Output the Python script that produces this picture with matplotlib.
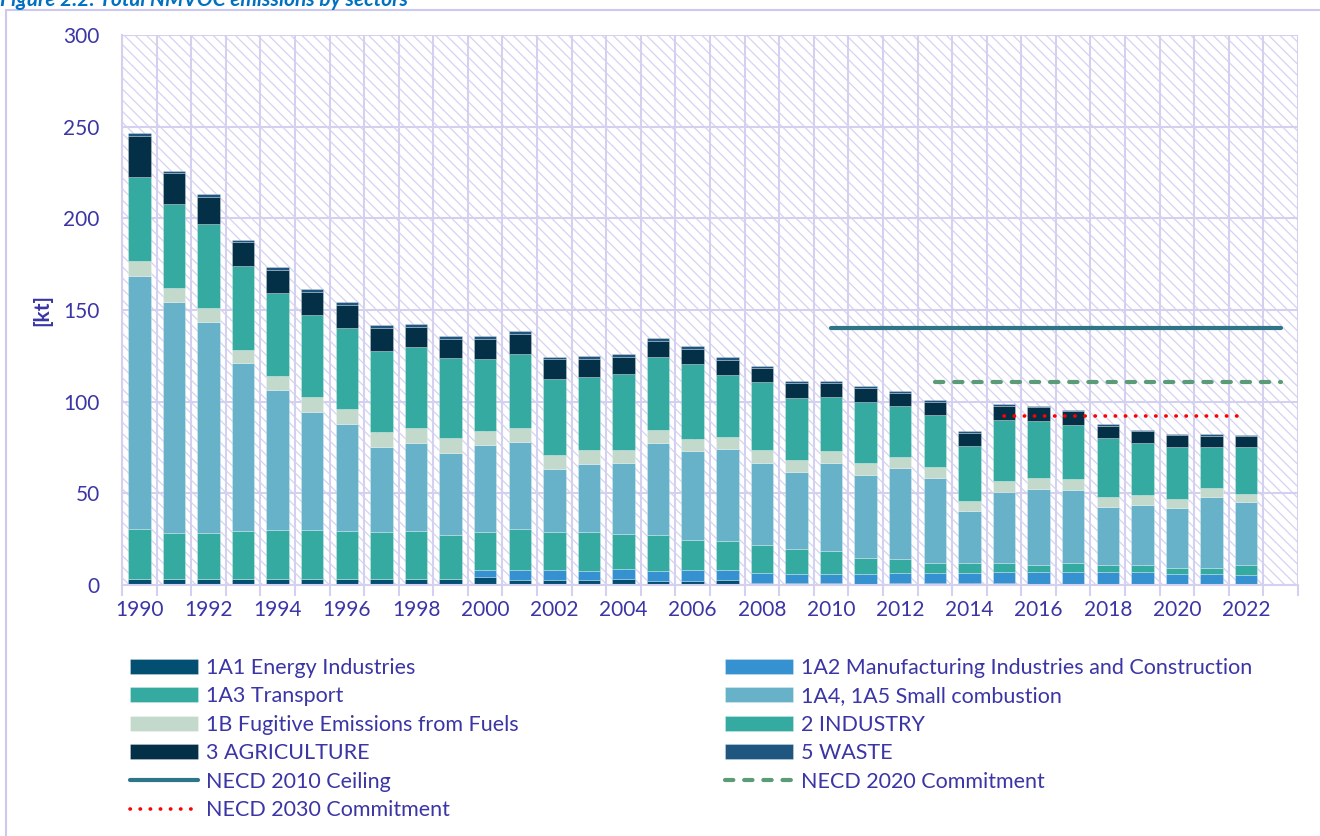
import matplotlib.pyplot as plt
from matplotlib.patches import Rectangle
import numpy as np

plt.rcParams['font.family'] = ['Lato', 'DejaVu Sans']
plt.rcParams['hatch.linewidth'] = 0.9

# data (kt NMVOC), 1990-2022; 2023 slot is left empty on the axis
years = list(range(1990, 2023))
axis_years = list(range(1990, 2024))

energy_1a1 = [3.1, 3.1, 3.1, 3.1, 3.1, 3.1, 3.1, 3.1, 3.1, 3.1,
              4.2, 3.0, 2.9, 2.9, 3.5, 2.0, 2.4, 2.5, 1.3, 1.3,
              1.3, 0.7, 0.9, 1.0, 0.9, 1.0, 0.5, 0.6, 0.5, 0.6,
              0.5, 0.5, 0.5]
manuf_1a2 = [0.0, 0.0, 0.0, 0.0, 0.0, 0.0, 0.0, 0.0, 0.0, 0.0,
             3.8, 5.0, 5.5, 4.7, 5.0, 5.5, 5.6, 5.5, 5.4, 4.5,
             4.9, 5.5, 5.5, 5.4, 5.8, 5.9, 6.4, 6.3, 6.8, 6.7,
             5.7, 5.7, 5.1]
transport_1a3 = [27.3, 25.1, 25.1, 26.5, 27.1, 27.1, 26.4, 26.0, 26.4, 24.4,
                 20.7, 22.7, 20.7, 21.5, 19.5, 20.0, 16.7, 16.0, 14.9, 14.0,
                 12.2, 8.7, 7.9, 5.8, 5.1, 5.3, 4.0, 5.1, 3.6, 3.6,
                 3.3, 3.3, 5.3]
small_1a4 = [138.3, 126.2, 115.4, 91.3, 76.2, 64.2, 58.3, 46.4, 48.1, 44.7,
             47.8, 47.5, 34.2, 37.1, 38.7, 50.0, 48.6, 50.2, 45.1, 41.8,
             48.1, 45.3, 49.7, 46.3, 28.6, 38.5, 41.5, 39.8, 31.6, 32.7,
             32.5, 38.5, 34.6]
fugitive_1b = [8.0, 7.6, 7.7, 7.5, 7.6, 8.0, 8.0, 8.0, 8.0, 8.0,
               7.5, 7.6, 7.4, 7.3, 7.1, 6.9, 6.5, 6.5, 6.9, 6.6,
               6.6, 6.3, 5.8, 5.8, 5.2, 5.9, 5.8, 5.8, 5.5, 5.5,
               4.9, 4.9, 4.3]
industry_2 = [46.0, 45.8, 45.6, 45.4, 45.1, 44.7, 44.6, 44.0, 44.2, 43.4,
              39.3, 40.2, 41.8, 40.0, 41.1, 39.8, 40.7, 34.0, 37.0, 34.0,
              29.3, 33.5, 27.7, 28.4, 30.2, 33.4, 31.4, 29.7, 32.2, 28.4,
              28.4, 22.4, 25.5]
agriculture_3 = [22.2, 16.7, 14.7, 13.1, 12.9, 12.7, 12.5, 12.5, 11.1, 10.8,
                 10.7, 10.7, 10.6, 10.0, 9.3, 9.1, 8.2, 8.2, 7.6, 7.8,
                 7.6, 7.3, 7.2, 7.3, 7.2, 7.7, 7.4, 7.4, 6.6, 6.4,
                 6.3, 6.1, 5.9]
waste_5 = [1.5, 1.3, 1.7, 1.3, 1.3, 1.5, 1.5, 1.8, 1.6, 1.4,
           2.0, 1.7, 1.4, 1.4, 1.6, 1.6, 1.5, 1.5, 1.3, 1.3,
           1.1, 1.1, 1.3, 1.0, 0.8, 0.8, 0.8, 0.8, 0.8, 0.8,
           0.8, 0.8, 0.8]

necd2010_years = [2010, 2011, 2012, 2013, 2014, 2015, 2016, 2017, 2018, 2019, 2020, 2021, 2022, 2023]
necd2010_vals = [140, 140, 140, 140, 140, 140, 140, 140, 140, 140, 140, 140, 140, 140]
necd2020_years = [2013, 2014, 2015, 2016, 2017, 2018, 2019, 2020, 2021, 2022, 2023]
necd2020_vals = [111, 111, 111, 111, 111, 111, 111, 111, 111, 111, 111]
necd2030_years = [2015, 2016, 2017, 2018, 2019, 2020, 2021, 2022]
necd2030_vals = [92, 92, 92, 92, 92, 92, 92, 92]

series = [
    ('1A1 Energy Industries', energy_1a1, '#024f72'),
    ('1A2 Manufacturing Industries and Construction', manuf_1a2, '#3591cf'),
    ('1A3 Transport', transport_1a3, '#35aaa1'),
    ('1A4, 1A5 Small combustion', small_1a4, '#67b1c9'),
    ('1B Fugitive Emissions from Fuels', fugitive_1b, '#c3d9cc'),
    ('2 INDUSTRY', industry_2, '#35aaa1'),
    ('3 AGRICULTURE', agriculture_3, '#032f47'),
    ('5 WASTE', waste_5, '#1f5680'),
]

txt_col = '#3b35a5'
grid_col = '#d4d0f0'

fig = plt.figure(figsize=(13.2, 8.36), dpi=100)
ax = fig.add_axes([122 / 1320, 1 - 585 / 836, (1298 - 122) / 1320, (585 - 35) / 836])

# outer frame + caption (cut off at the top, as in the source page)
fig.patches.append(Rectangle((6 / 1320, -0.02), 1.1, 1 - 10 / 836 + 0.02, transform=fig.transFigure,
                             facecolor='none', edgecolor='#cdc9ee', lw=1.5, zorder=0))
fig.text(0.0, 1 - 6 / 836, 'Figure 2.2: Total NMVOC emissions by sectors', color='#0070c0',
         fontsize=15, style='italic', fontweight='bold', va='baseline', ha='left')

# hatched plot background
ax.add_patch(Rectangle((0, 0), 1, 1, transform=ax.transAxes, facecolor='white',
                       edgecolor='#d6d2f3', lw=0, hatch='\\\\\\', zorder=0))

x = np.array([y - 1990 for y in years])
bottom = np.zeros(len(years))
handles = {}
for name, vals, col in series:
    vals = np.array(vals)
    b = ax.bar(x, vals, width=0.65, bottom=bottom, color=col, label=name, zorder=2,
               edgecolor=(1, 1, 1, 0.3), linewidth=0.6)
    handles[name] = b
    bottom = bottom + vals

l1, = ax.plot([y - 1990 for y in necd2010_years], necd2010_vals, color='#2f7588', lw=3,
              solid_capstyle='round', zorder=3, label='NECD 2010 Ceiling')
l2, = ax.plot([y - 1990 for y in necd2020_years], necd2020_vals, color='#5b9b78', lw=3,
              linestyle=(0, (2.0, 2.6)), dash_capstyle='round', zorder=3, label='NECD 2020 Commitment')
l3, = ax.plot([y - 1990 for y in necd2030_years], necd2030_vals, color='#ff0000', lw=2.6,
              linestyle=(0, (0.1, 2.7)), dash_capstyle='round', zorder=3, label='NECD 2030 Commitment')

ax.set_xlim(-0.5, len(axis_years) - 0.5)
ax.set_ylim(0, 300)
ax.set_yticks([0, 50, 100, 150, 200, 250, 300])
ax.set_xticks([y - 1990 for y in axis_years if y % 2 == 0 and y <= 2022])
ax.set_xticklabels([str(y) for y in axis_years if y % 2 == 0 and y <= 2022])
ax.set_xticks(np.arange(len(axis_years) + 1) - 0.5, minor=True)
ax.tick_params(axis='x', which='major', length=0, pad=11, labelsize=15, labelcolor=txt_col)
ax.tick_params(axis='x', which='minor', length=8, width=1.5, color=grid_col)
ax.tick_params(axis='y', length=0, pad=16, labelsize=15, labelcolor=txt_col)
ax.set_axisbelow(True)
ax.grid(axis='y', which='major', color=grid_col, lw=1.5, zorder=1)
ax.grid(axis='x', which='minor', color=grid_col, lw=1.5, zorder=1)
for s in ax.spines.values():
    s.set_color(grid_col)
    s.set_linewidth(1.5)
ax.spines['top'].set_visible(False)
ax.spines['right'].set_visible(False)

fig.text(42 / 1320, 1 - 310 / 836, '[kt]', rotation=90, color=txt_col, fontsize=15,
         fontweight='bold', ha='center', va='center')

col1 = [handles['1A1 Energy Industries'], handles['1A3 Transport'],
        handles['1B Fugitive Emissions from Fuels'], handles['3 AGRICULTURE'], l1, l3]
col2 = [handles['1A2 Manufacturing Industries and Construction'], handles['1A4, 1A5 Small combustion'],
        handles['2 INDUSTRY'], handles['5 WASTE'], l2]
kw = dict(loc='upper left', frameon=False, fontsize=15.5, labelcolor=txt_col, borderpad=0,
          borderaxespad=0, handlelength=3.15, handleheight=0.68, handletextpad=0.37, labelspacing=0.39)
leg1 = fig.legend(col1, [h.get_label() for h in col1], bbox_to_anchor=(130 / 1320, 1 - 658 / 836), **kw)
leg2 = fig.legend(col2, [h.get_label() for h in col2], bbox_to_anchor=(725 / 1320, 1 - 658 / 836), **kw)

fig.savefig('out.png', dpi=100)
